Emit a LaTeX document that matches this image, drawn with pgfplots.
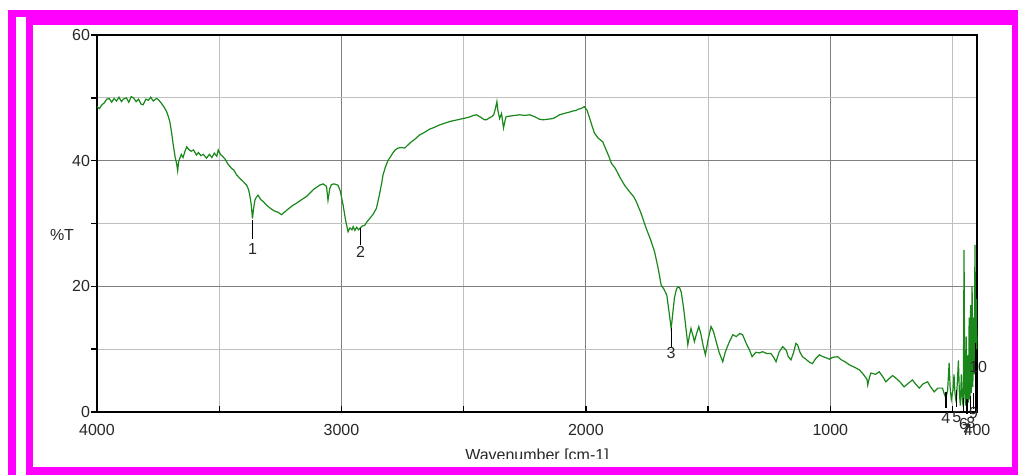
\documentclass[border=0pt]{standalone}
\usepackage{pgfplots}
\pgfplotsset{compat=1.18}
\usepackage{fontspec}
\setmainfont{Liberation Sans}
\definecolor{specgreen}{RGB}{25,135,25}
\definecolor{lblcol}{RGB}{40,40,40}
\definecolor{framemag}{RGB}{255,0,255}
\begin{document}
\begin{tikzpicture}
\begin{scope}[x=0.5pt,y=-0.5pt,shift={(0pt,237.5pt)}]
\fill[white] (0,0) rectangle (1018,475);
\fill[framemag] (8,10) rectangle (1018,475);
\fill[white] (16,17) rectangle (1018,475);
\fill[framemag] (26,17) rectangle (1018,475);
\fill[white] (33,25) rectangle (1012,467);
\end{scope}
\begin{axis}[
  at={(48.5pt,31.5pt)}, anchor=south west, scale only axis,
  width=440pt, height=188.5pt,
  x dir=reverse, xmin=400, xmax=4000, ymin=0, ymax=60,
  xtick={4000,3000,2000,1000,400}, xticklabels={4000,3000,2000,1000,400},
  minor xtick={3500,2500,1500,500},
  ytick={0,20,40,60}, yticklabels={0,20,40,60},
  minor ytick={10,30,50},
  grid=both,
  major grid style={black!50, line width=0.6pt},
  minor grid style={black!25, line width=0.6pt},
  axis line style={black, line width=0.8pt},
  xtick pos=bottom, ytick pos=left,
  major tick length=3pt, minor tick length=3pt,
  tick style={black, line width=0.7pt},
  y tick style={xshift=-3pt},
  ticklabel style={font=\fontsize{8}{9}\selectfont, text=lblcol},
  xticklabel style={yshift=-2.5pt},
  /pgf/number format/assume math mode=true,
  clip=false,
]
\addplot[specgreen, line width=0.6pt] coordinates {
(4000,48.6)(3990,48.3)(3980,48.9)(3970,49.2)(3960,49.8)(3950,49.9)(3940,49.3)(3930,49.9)(3920,49.5)(3910,50.1)
(3900,49.4)(3892,49.8)(3880,50.0)(3870,49.3)(3860,50.2)(3851,50.0)(3840,49.4)(3830,49.8)(3820,49.0)(3811,48.9)
(3800,49.8)(3790,49.6)(3780,50.1)(3770,49.5)(3756,49.9)(3746,49.6)(3736,49.1)(3725,48.5)(3715,47.8)(3708,47.0)
(3702,46.2)(3695,44.5)(3688,42.5)(3680,40.5)(3674,39.5)(3670,38.4)(3666,39.8)(3661,40.4)(3655,41.0)(3648,40.5)
(3640,41.5)(3633,42.2)(3625,41.8)(3615,41.5)(3605,41.7)(3593,40.9)(3585,41.3)(3575,40.8)(3565,41.0)(3552,40.4)
(3540,41.0)(3530,40.5)(3520,41.2)(3510,40.7)(3504,41.7)(3495,41.0)(3484,40.6)(3475,40.2)(3465,39.5)(3450,38.8)
(3440,38.5)(3430,37.8)(3416,37.2)(3400,36.6)(3388,36.1)(3380,35.4)(3375,34.5)(3369,33.0)(3364,30.8)(3360,32.2)
(3354,33.7)(3348,34.2)(3341,34.5)(3330,33.8)(3320,33.5)(3306,32.9)(3290,32.4)(3275,32.0)(3260,31.8)(3245,31.4)
(3230,31.9)(3215,32.4)(3198,32.9)(3185,33.2)(3170,33.6)(3155,34.0)(3143,34.3)(3130,34.8)(3115,35.4)(3100,35.8)
(3089,36.1)(3075,36.3)(3061,35.9)(3055,33.7)(3048,35.5)(3041,36.2)(3030,36.3)(3014,36.1)(3005,35.2)(2993,32.9)
(2983,30.5)(2973,28.7)(2965,29.3)(2957,29.0)(2952,29.5)(2945,28.9)(2938,29.4)(2930,29.0)(2925,29.2)(2915,29.6)
(2905,29.7)(2895,30.3)(2884,30.8)(2870,31.5)(2857,32.4)(2845,34.5)(2835,36.5)(2830,37.7)(2820,39.0)(2810,40.0)
(2803,40.4)(2790,41.2)(2780,41.7)(2769,42.0)(2755,42.1)(2741,42.0)(2720,42.8)(2700,43.4)(2680,44.1)(2660,44.5)
(2640,45.0)(2620,45.3)(2598,45.7)(2575,46.0)(2550,46.3)(2525,46.5)(2503,46.7)(2480,46.9)(2460,47.2)(2448,47.3)
(2430,46.9)(2415,46.5)(2407,46.5)(2395,46.8)(2385,47.0)(2377,47.3)(2370,48.3)(2364,49.4)(2360,48.0)(2353,46.7)
(2345,47.5)(2337,45.2)(2330,46.5)(2326,47.0)(2310,47.1)(2290,47.2)(2271,47.3)(2250,47.2)(2230,47.3)(2210,47.0)
(2190,46.6)(2176,46.5)(2155,46.6)(2135,46.7)(2120,47.0)(2108,47.3)(2090,47.5)(2070,47.7)(2053,47.9)(2040,48.0)
(2030,48.2)(2020,48.3)(2006,48.6)(1995,48.0)(1985,46.8)(1972,45.2)(1965,44.4)(1950,43.6)(1931,43.0)(1915,41.5)
(1905,40.6)(1896,39.6)(1880,38.8)(1860,37.3)(1842,36.1)(1820,35.0)(1805,34.3)(1794,33.5)(1775,31.7)(1753,29.2)
(1735,27.4)(1719,25.5)(1705,23.0)(1692,20.2)(1680,19.5)(1669,18.6)(1660,16.0)(1655,14.5)(1651,13.3)(1645,15.5)
(1638,18.1)(1630,19.5)(1624,19.9)(1617,19.8)(1610,19.1)(1600,16.5)(1592,13.8)(1583,10.7)(1577,12.0)(1570,13.3)
(1563,12.3)(1556,11.2)(1547,12.5)(1538,13.6)(1530,12.5)(1520,10.5)(1511,9.1)(1500,11.5)(1488,13.6)(1478,12.8)
(1467,11.2)(1455,9.5)(1440,8.0)(1430,9.5)(1415,11.0)(1399,12.3)(1385,12.0)(1370,12.5)(1359,12.3)(1345,11.0)
(1330,9.8)(1320,8.8)(1305,9.5)(1290,9.4)(1277,9.6)(1260,9.3)(1243,9.3)(1232,8.7)(1222,8.0)(1210,9.5)
(1195,10.4)(1180,9.8)(1172,8.8)(1161,8.3)(1150,9.5)(1141,10.9)(1134,10.7)(1124,9.5)(1114,8.8)(1100,8.4)
(1085,7.9)(1073,7.7)(1060,8.5)(1045,9.1)(1030,8.8)(1015,8.6)(1004,8.4)(990,8.7)(970,8.8)(955,8.3)
(940,8.0)(922,7.5)(900,7.1)(881,6.7)(865,6.0)(850,5.2)(847,4.3)(840,5.5)(834,6.2)(815,6.0)
(800,6.4)(785,5.6)(773,4.8)(760,5.3)(745,5.8)(732,5.4)(715,4.8)(698,4.0)(680,4.6)(664,5.1)
(650,4.4)(636,3.8)(620,4.5)(602,4.8)(590,4.0)(575,3.2)(560,3.8)(541,3.8)(535,3.0)(527,2.2)
(520,3.5)(514,7.8)(510,4.0)(505,2.0)(498,3.5)(494,6.0)(490,3.0)(485,1.5)(480,5.0)(476,8.2)
(472,3.0)(468,1.0)(464,6.0)(460,2.0)(456,0.8)(453,25.8)(450,3.0)(447,1.0)(444,12.0)(441,0.5)
(438,9.0)(435,1.5)(432,15.0)(429,2.0)(426,17.0)(423,3.0)(420,20.0)(417,4.0)(414,15.0)(411,6.0)
(409,22.0)(408,26.6)(406,8.0)(404,16.0)(402,18.0)(401,10.0)(400,12.0)
};
% peak markers
\draw[black, line width=0.6pt] (axis cs:3364,30.5) -- (axis cs:3364,27.6);
\node[text=lblcol, font=\fontsize{8}{9}\selectfont] at (axis cs:3364,26.0) {1};
\draw[black, line width=0.6pt] (axis cs:2922,29.3) -- (axis cs:2922,26.6);
\node[text=lblcol, font=\fontsize{8}{9}\selectfont] at (axis cs:2922,25.4) {2};
\draw[black, line width=0.6pt] (axis cs:1651,13.3) -- (axis cs:1651,10.4);
\node[text=lblcol, font=\fontsize{8}{9}\selectfont] at (axis cs:1651,9.4) {3};
\draw[black, line width=0.6pt] (axis cs:527,3.2) -- (axis cs:527,0.6);
\node[text=lblcol, font=\fontsize{8}{9}\selectfont] at (axis cs:527,-1.0) {4};
\draw[black, line width=0.6pt] (axis cs:483,3.5) -- (axis cs:483,0.8);
\node[text=lblcol, font=\fontsize{8}{9}\selectfont] at (axis cs:483,-0.8) {5};
\draw[black, line width=0.6pt] (axis cs:455,2.2) -- (axis cs:455,-0.2);
\node[text=lblcol, font=\fontsize{8}{9}\selectfont] at (axis cs:455,-1.9) {6};
\draw[black, line width=0.6pt] (axis cs:441,2.0) -- (axis cs:441,-0.3);
\node[text=lblcol, font=\fontsize{8}{9}\selectfont] at (axis cs:443,-2.8) {7};
\draw[black, line width=0.6pt] (axis cs:425,2.5) -- (axis cs:425,-0.3);
\node[text=lblcol, font=\fontsize{8}{9}\selectfont] at (axis cs:425,-1.8) {8};
\draw[black, line width=0.6pt] (axis cs:414,3.0) -- (axis cs:414,0.5);
\node[text=lblcol, font=\fontsize{8}{9}\selectfont] at (axis cs:414,-0.2) {9};
\draw[black, line width=0.6pt] (axis cs:406,11.0) -- (axis cs:406,0);
\node[text=lblcol, font=\fontsize{8}{9}\selectfont] at (axis cs:395,7.2) {10};
\end{axis}
\begin{scope}[x=0.5pt,y=-0.5pt,shift={(0pt,237.5pt)}]
\node[text=lblcol, font=\fontsize{8}{9}\selectfont] at (62,235) {\%T};
\begin{scope}
\clip (400,430) rectangle (700,459);
\node[text=lblcol, font=\fontsize{8}{9}\selectfont, anchor=base] at (537,461) {Wavenumber [cm-1]};
\end{scope}
\end{scope}
\pgfresetboundingbox
\useasboundingbox (0,0) rectangle (509pt,237.5pt);
\end{tikzpicture}
\end{document}
